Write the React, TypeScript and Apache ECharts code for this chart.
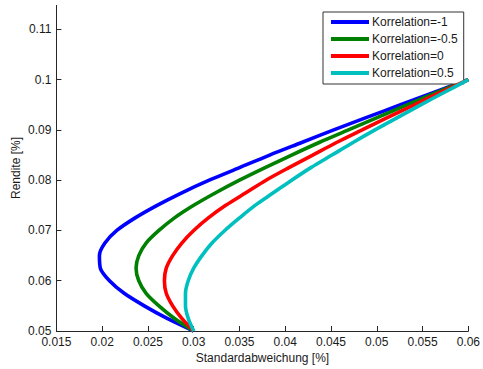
import React, { useEffect, useRef } from "react";
import * as echarts from "echarts";

const returns = [0.05, 0.0525, 0.055, 0.0575, 0.06, 0.0625, 0.065, 0.0675, 0.07, 0.0725, 0.075, 0.0775, 0.08, 0.0825, 0.085, 0.0875, 0.09, 0.0925, 0.095, 0.0975, 0.1];
const sigmaRhoM1 = [0.03, 0.0271, 0.0246, 0.0224, 0.0208, 0.0198, 0.0197, 0.0203, 0.0216, 0.0236, 0.026, 0.0287, 0.0317, 0.035, 0.0383, 0.0418, 0.0453, 0.0489, 0.0526, 0.0563, 0.06];
const sigmaRhoM05 = [0.03, 0.0279, 0.0262, 0.0248, 0.024, 0.0237, 0.024, 0.0248, 0.0262, 0.0279, 0.03, 0.0324, 0.035, 0.0378, 0.0407, 0.0437, 0.0469, 0.0501, 0.0533, 0.0566, 0.06];
const sigmaRho0 = [0.03, 0.0287, 0.0277, 0.027, 0.0268, 0.027, 0.0277, 0.0287, 0.03, 0.0316, 0.0335, 0.0357, 0.0379, 0.0404, 0.043, 0.0456, 0.0484, 0.0512, 0.0541, 0.057, 0.06];
const sigmaRho05 = [0.03, 0.0294, 0.0291, 0.0291, 0.0294, 0.03, 0.0309, 0.032, 0.0334, 0.035, 0.0367, 0.0387, 0.0407, 0.0428, 0.0451, 0.0474, 0.0498, 0.0523, 0.0548, 0.0574, 0.06];

const seriesNames = ["Korrelation=-1", "Korrelation=-0.5", "Korrelation=0", "Korrelation=0.5"];
const seriesSigmas = [sigmaRhoM1, sigmaRhoM05, sigmaRho0, sigmaRho05];
const seriesColors = ["#0000ff", "#008000", "#ff0000", "#00bfbf"];

const xTitle = "Standardabweichung [%]";
const yTitle = "Rendite [%]";

const FONT = "'Liberation Sans', Arial, Helvetica, sans-serif";

export default function App() {
  const ref = useRef<HTMLDivElement>(null);
  useEffect(() => {
    if (!ref.current) return;
    const chart = echarts.init(ref.current, undefined, { renderer: "svg" });
    const axisColor = "#262626";
    chart.setOption({
      animation: false,
      backgroundColor: "#ffffff",
      textStyle: { fontFamily: FONT },
      grid: { left: 56.4, right: 10.3, top: 29.4, bottom: 38, containLabel: false },
      xAxis: {
        type: "value",
        min: 0.015,
        max: 0.06,
        interval: 0.005,
        splitLine: { show: false },
        axisLine: { show: true, lineStyle: { color: axisColor, width: 1 } },
        axisTick: { show: true, inside: true, length: 5, lineStyle: { color: axisColor } },
        axisLabel: { color: "#1a1a1a", fontSize: 12, fontFamily: FONT, margin: 5 },
      },
      yAxis: {
        type: "value",
        min: 0.05,
        max: 0.11,
        interval: 0.01,
        splitLine: { show: false },
        axisLine: { show: true, lineStyle: { color: axisColor, width: 1 } },
        axisTick: { show: true, inside: true, length: 5, lineStyle: { color: axisColor } },
        axisLabel: { color: "#1a1a1a", fontSize: 12, fontFamily: FONT, margin: 5 },
      },
      legend: {
        show: true,
        orient: "vertical",
        left: 323,
        top: 12,
        itemWidth: 38,
        itemHeight: 4,
        itemGap: 3,
        icon: "rect",
        borderColor: "#333333",
        borderWidth: 1,
        backgroundColor: "#ffffff",
        padding: [3, 6, 4, 8],
        textStyle: { fontSize: 12, fontFamily: FONT, color: "#1a1a1a", padding: [0, 0, 0, -2], lineHeight: 14 },
        data: seriesNames,
      },
      graphic: [
        {
          type: "line",
          shape: { x1: 56.5, y1: 5, x2: 56.5, y2: 30 },
          style: { stroke: axisColor, lineWidth: 1 },
          silent: true,
        },
        {
          type: "text",
          x: 16,
          y: 168,
          rotation: Math.PI / 2,
          style: { text: yTitle, fontSize: 12, fontFamily: FONT, fill: "#1a1a1a", align: "center", verticalAlign: "middle" },
          silent: true,
        },
        {
          type: "text",
          x: 262.5,
          y: 357.5,
          style: { text: xTitle, fontSize: 12, fontFamily: FONT, fill: "#1a1a1a", align: "center", verticalAlign: "middle" },
          silent: true,
        },
      ],
      series: seriesNames.map((name, i) => ({
        name,
        type: "line",
        data: returns.map((r, j) => [seriesSigmas[i][j], r]),
        showSymbol: false,
        symbol: "none",
        smooth: 0.3,
        clip: false,
        lineStyle: { color: seriesColors[i], width: 3.6 },
        itemStyle: { color: seriesColors[i] },
        z: 2 + i,
      })),
    });
    return () => chart.dispose();
  }, []);
  return (
    <div
      ref={ref}
      style={{ position: "fixed", left: 0, top: 0, width: 483, height: 369, background: "#fff" }}
    />
  );
}
